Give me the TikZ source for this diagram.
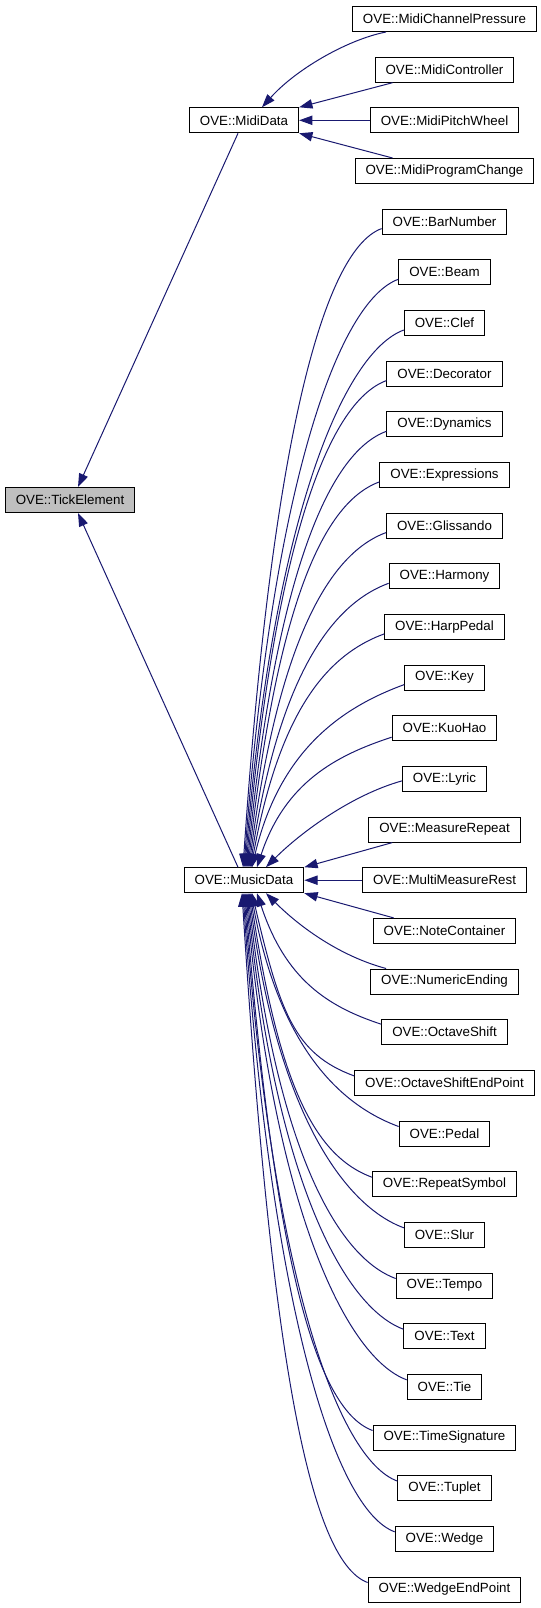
\documentclass[tikz,border=0pt]{standalone}
\usepackage{fontspec}
\setmainfont{Liberation Sans}
\usepackage{tikz}
\usetikzlibrary{arrows.meta}
\usetikzlibrary{calc}

\definecolor{edgeblue}{RGB}{25,25,112}

\begin{document}
\begin{tikzpicture}[x=0.75pt, y=-0.75pt,
    cls/.style={draw=black, line width=0.75pt, fill=white, rectangle, inner xsep=7.9pt, inner ysep=0pt,
                minimum height=18.75pt, font=\fontsize{10}{12}\selectfont},
    root/.style={cls, fill=black!25},
    edge/.style={draw=edgeblue, line width=0.75pt, -{Triangle[length=10pt,width=7pt]}}]
            \useasboundingbox (0,0) rectangle (541,1608);

            \draw (70,500) node[root]                     (tick) {OVE::TickElement};
            \draw (244,120.3) node[cls]                   (mid) {OVE::MidiData};
            \draw (244,880.2) node[cls]                   (mus) {OVE::MusicData};

            \draw (444.5,19) node[cls]                    (mcp) {OVE::MidiChannelPressure};
            \draw (444.5,69.7) node[cls]                  (mctl) {OVE::MidiController};
            \draw (444.5,120.3) node[cls]                 (mpw) {OVE::MidiPitchWheel};
            \draw (444.5,171) node[cls]                   (mpc) {OVE::MidiProgramChange};

            \draw (444.5,221.6) node[cls]                 (bar) {OVE::BarNumber};
            \draw (444.5,272.3) node[cls]                 (beam) {OVE::Beam};
            \draw (444.5,323) node[cls]                   (clef) {OVE::Clef};
            \draw (444.5,373.6) node[cls]                 (deco) {OVE::Decorator};
            \draw (444.5,424.3) node[cls]                 (dyn) {OVE::Dynamics};
            \draw (444.5,474.9) node[cls]                 (expr) {OVE::Expressions};
            \draw (444.5,525.6) node[cls]                 (gliss) {OVE::Glissando};
            \draw (444.5,576.3) node[cls]                 (harm) {OVE::Harmony};
            \draw (444.5,626.9) node[cls]                 (harp) {OVE::HarpPedal};
            \draw (444.5,677.6) node[cls]                 (key) {OVE::Key};
            \draw (444.5,728.2) node[cls]                 (kuo) {OVE::KuoHao};
            \draw (444.5,778.9) node[cls]                 (lyric) {OVE::Lyric};
            \draw (444.5,829.6) node[cls]                 (mrep) {OVE::MeasureRepeat};
            \draw (444.5,880.2) node[cls]                 (mmr) {OVE::MultiMeasureRest};
            \draw (444.5,930.9) node[cls]                 (ncont) {OVE::NoteContainer};
            \draw (444.5,981.5) node[cls]                 (nend) {OVE::NumericEnding};
            \draw (444.5,1032.2) node[cls]                (oshift) {OVE::OctaveShift};
            \draw (444.5,1082.9) node[cls]                (osep) {OVE::OctaveShiftEndPoint};
            \draw (444.5,1133.5) node[cls]                (pedal) {OVE::Pedal};
            \draw (444.5,1184.2) node[cls]                (rsym) {OVE::RepeatSymbol};
            \draw (444.5,1234.8) node[cls]                (slur) {OVE::Slur};
            \draw (444.5,1285.5) node[cls]                (tempo) {OVE::Tempo};
            \draw (444.5,1336.2) node[cls]                (txt) {OVE::Text};
            \draw (444.5,1386.8) node[cls]                (tie) {OVE::Tie};
            \draw (444.5,1437.5) node[cls]                (tsig) {OVE::TimeSignature};
            \draw (444.5,1488.1) node[cls]                (tuplet) {OVE::Tuplet};
            \draw (444.5,1538.8) node[cls]                (wedge) {OVE::Wedge};
            \draw (444.5,1589.5) node[cls]                (wep) {OVE::WedgeEndPoint};

            % base classes
            \draw[edge] ($(mid.south)+(-6,0)$) -- ($(tick.north)+(8,0)$);
            \draw[edge] ($(mus.north)+(-6,0)$) -- ($(tick.south)+(8,0)$);

            % midi
            \draw[edge] ($(mcp.south west)+(34,0)$) .. controls +(-40,8) and +(33,-37) .. ($(mid.north)+(18,0)$);
            \draw[edge] ($(mctl.south west)+(18,0)$) -- (mid.north east);
            \draw[edge] (mpw.west) -- (mid.east);
            \draw[edge] ($(mpc.north west)+(38,0)$) -- (mid.south east);

            % music, above
            \draw[edge] ($(bar.west)+(0,7)$) .. controls +(-60,22) and +(28,-415) .. ($(mus.north)+(-1,0)$);
            \draw[edge] ($(beam.west)+(0,7)$) .. controls +(-60,22) and +(28,-382) .. ($(mus.north)+(0,0)$);
            \draw[edge] ($(clef.west)+(0,7)$) .. controls +(-60,22) and +(28,-350) .. ($(mus.north)+(1,0)$);
            \draw[edge] ($(deco.west)+(0,7)$) .. controls +(-60,22) and +(28,-317) .. ($(mus.north)+(2,0)$);
            \draw[edge] ($(dyn.west)+(0,7)$) .. controls +(-60,22) and +(28,-284) .. ($(mus.north)+(3,0)$);
            \draw[edge] ($(expr.west)+(0,7)$) .. controls +(-60,22) and +(28,-251) .. ($(mus.north)+(4,0)$);
            \draw[edge] ($(gliss.west)+(0,7)$) .. controls +(-60,22) and +(28,-218) .. ($(mus.north)+(5,0)$);
            \draw[edge] ($(harm.west)+(0,7)$) .. controls +(-60,22) and +(28,-185) .. ($(mus.north)+(6,0)$);
            \draw[edge] ($(harp.west)+(0,7)$) .. controls +(-60,22) and +(28,-152) .. ($(mus.north)+(7,0)$);
            \draw[edge] ($(key.west)+(0,7)$) .. controls +(-60,22) and +(28,-119) .. ($(mus.north)+(8,0)$);
            \draw[edge] ($(kuo.west)+(0,9)$) .. controls +(-55,18) and +(28,-85) .. ($(mus.north)+(13,0)$);
            \draw[edge] ($(lyric.west)+(0,2)$) .. controls +(-50,14) and +(35,-35) .. ($(mus.north)+(22,0)$);
            \draw[edge] ($(mrep.south west)+(24,0)$) -- (mus.north east);
            \draw[edge] (mmr.west) -- (mus.east);

            % music, below
            \draw[edge] ($(ncont.north west)+(21,0)$) -- (mus.south east);
            \draw[edge] ($(nend.north west)+(16,0)$) .. controls +(-45,-12) and +(35,35) .. ($(mus.south)+(22,0)$);
            \draw[edge] ($(oshift.west)+(0,-8)$) .. controls +(-55,-18) and +(28,85) .. ($(mus.south)+(13,0)$);
            \draw[edge] ($(osep.west)+(0,-7)$) .. controls +(-60,-22) and +(28,119) .. ($(mus.south)+(8,0)$);
            \draw[edge] ($(pedal.west)+(0,-7)$) .. controls +(-60,-22) and +(28,152) .. ($(mus.south)+(7,0)$);
            \draw[edge] ($(rsym.west)+(0,-7)$) .. controls +(-60,-22) and +(28,185) .. ($(mus.south)+(6,0)$);
            \draw[edge] ($(slur.west)+(0,-7)$) .. controls +(-60,-22) and +(28,218) .. ($(mus.south)+(5,0)$);
            \draw[edge] ($(tempo.west)+(0,-7)$) .. controls +(-60,-22) and +(28,251) .. ($(mus.south)+(4,0)$);
            \draw[edge] ($(txt.west)+(0,-7)$) .. controls +(-60,-22) and +(28,284) .. ($(mus.south)+(3,0)$);
            \draw[edge] ($(tie.west)+(0,-7)$) .. controls +(-60,-22) and +(28,317) .. ($(mus.south)+(2,0)$);
            \draw[edge] ($(tsig.west)+(0,-7)$) .. controls +(-60,-22) and +(28,350) .. ($(mus.south)+(1,0)$);
            \draw[edge] ($(tuplet.west)+(0,-7)$) .. controls +(-60,-22) and +(28,382) .. ($(mus.south)+(0,0)$);
            \draw[edge] ($(wedge.west)+(0,-7)$) .. controls +(-60,-22) and +(28,415) .. ($(mus.south)+(-1,0)$);
            \draw[edge] ($(wep.west)+(0,-7)$) .. controls +(-60,-22) and +(28,448) .. ($(mus.south)+(-2,0)$);

            \end{tikzpicture}
\end{document}
